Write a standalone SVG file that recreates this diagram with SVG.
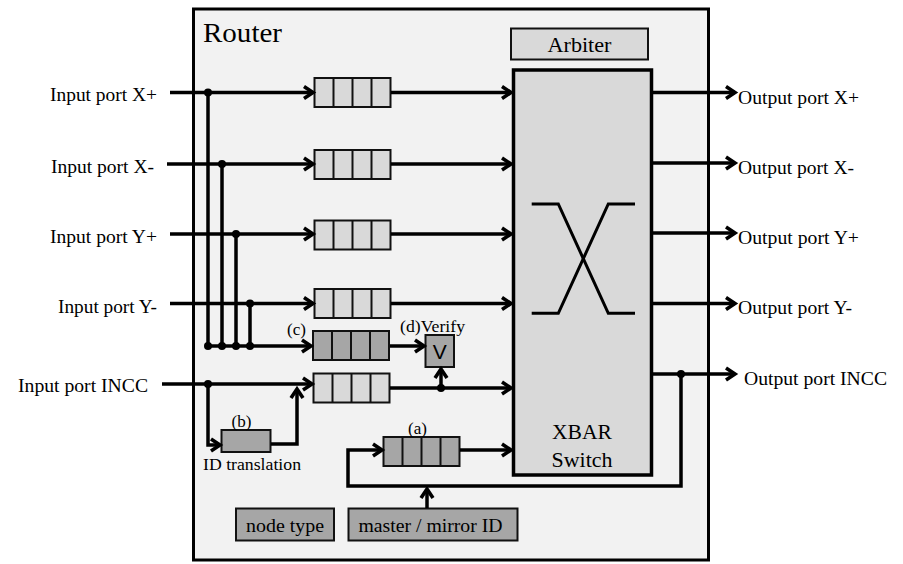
<svg xmlns="http://www.w3.org/2000/svg" width="903" height="564" viewBox="0 0 903 564" font-family="'Liberation Serif','Times New Roman',serif">
<defs>
<marker id="arr" viewBox="0 0 14 16" refX="12" refY="8" markerWidth="14" markerHeight="16" markerUnits="userSpaceOnUse" orient="auto" overflow="visible">
<path d="M3,2 L12,8 L3,14" fill="none" stroke="#000" stroke-width="3.6" stroke-linejoin="miter"/>
</marker>
<g id="qcells" stroke="#111" stroke-width="2">
<line x1="19" y1="0" x2="19" y2="29"/>
<line x1="38" y1="0" x2="38" y2="29"/>
<line x1="57" y1="0" x2="57" y2="29"/>
</g>
</defs>
<style>
svg text, g text{font-family:"Liberation Serif","Times New Roman",serif;fill:#000}
g text.sans{font-family:"Liberation Sans",Arial,sans-serif}
.lbl{font-size:19px}
.sm{font-size:17px}
.box{stroke:#111;stroke-width:2}
.light{fill:#d9d9d9}
.dark{fill:#a6a6a6}
.c{fill:none;stroke:#000;stroke-width:3.5}
.a{marker-end:url(#arr)}
.dot{fill:#000}
</style>
<rect id="router" x="193.5" y="9" width="515" height="551" fill="#f2f2f2" stroke="#000" stroke-width="3"/>
<g id="router-label"><text x="203" y="42" font-size="27" font-family="'Liberation Serif',serif" textLength="79" lengthAdjust="spacingAndGlyphs">Router</text></g>

<g id="arbiter"><rect class="box light" x="511" y="28.5" width="137" height="31"/><text x="579.5" y="52" font-size="21" font-family="'Liberation Serif',serif" text-anchor="middle" textLength="64" lengthAdjust="spacingAndGlyphs">Arbiter</text></g>

<g id="xbar">
<rect x="513.5" y="70" width="138" height="405" fill="#d9d9d9" stroke="#000" stroke-width="3.5"/>
<polyline points="531.7,204 558.3,204 608.3,313.3 635,313.3" fill="none" stroke="#000" stroke-width="3"/>
<polyline points="531.7,313.3 558.3,313.3 608.3,204 635,204" fill="none" stroke="#000" stroke-width="3"/>
<text x="582" y="438.5" font-size="21.5" font-family="'Liberation Serif',serif" text-anchor="middle" textLength="60" lengthAdjust="spacingAndGlyphs">XBAR</text>
<text x="582" y="467" font-size="21.5" font-family="'Liberation Serif',serif" text-anchor="middle" textLength="61" lengthAdjust="spacingAndGlyphs">Switch</text>
</g>

<g id="q-xp" transform="translate(314.5,78)"><rect class="box light" width="76" height="29"/><use href="#qcells"/></g>
<g id="q-xm" transform="translate(314.5,150)"><rect class="box light" width="76" height="29"/><use href="#qcells"/></g>
<g id="q-yp" transform="translate(314.5,220.5)"><rect class="box light" width="76" height="29"/><use href="#qcells"/></g>
<g id="q-ym" transform="translate(314.5,289)"><rect class="box light" width="76" height="29"/><use href="#qcells"/></g>
<g id="q-c" transform="translate(313,331)"><rect class="box dark" width="76" height="29"/><use href="#qcells"/></g>
<g id="q-incc" transform="translate(313.5,373.5)"><rect class="box light" width="76" height="29"/><use href="#qcells"/></g>
<g id="q-a" transform="translate(383.5,437)"><rect class="box dark" width="76" height="29"/><use href="#qcells"/></g>

<g id="verify"><rect class="box dark" x="425.5" y="335" width="28.5" height="32"/><text class="sans" x="439.8" y="359" font-size="21" font-family="'Liberation Sans',Arial,sans-serif" text-anchor="middle">V</text></g>
<g id="idtrans"><rect class="box dark" x="221.5" y="430" width="49" height="22"/></g>
<g id="nodetype"><rect class="box dark" x="236" y="508.5" width="98" height="32"/><text x="285" y="532" class="lbl" font-family="'Liberation Serif',serif" text-anchor="middle" textLength="78" lengthAdjust="spacingAndGlyphs">node type</text></g>
<g id="masterid"><rect class="box dark" x="348.5" y="508.5" width="169" height="32"/><text x="430.5" y="532" class="lbl" font-family="'Liberation Serif',serif" text-anchor="middle" textLength="144" lengthAdjust="spacingAndGlyphs">master / mirror ID</text></g>

<g id="connectors">
<path class="c a" d="M170,92.5 H313"/>
<path class="c a" d="M167,164 H313"/>
<path class="c a" d="M170,234 H313"/>
<path class="c a" d="M170,303.5 H313"/>
<path class="c" d="M208,92.5 V346 M222,164 V346 M236,234 V346 M250,303.5 V346"/>
<path class="c a" d="M208,346 H311"/>
<path class="c a" d="M391,92.5 H511"/>
<path class="c a" d="M391,164 H511"/>
<path class="c a" d="M391,234 H511"/>
<path class="c a" d="M391,303.5 H511"/>
<path class="c a" d="M390,346 H424"/>
<path class="c a" d="M162,384 H312"/>
<path class="c a" d="M208,384 V445 H220"/>
<path class="c a" d="M271,444 H297 V389"/>
<path class="c a" d="M390,388 H511"/>
<path class="c a" d="M441,388 V369"/>
<path class="c a" d="M460,450 H511"/>
<path class="c a" d="M681,374 V486 H348 V450 H382"/>
<path class="c a" d="M427,508 V489"/>
<path class="c a" d="M652,92.5 H735"/>
<path class="c a" d="M652,163 H735"/>
<path class="c a" d="M652,233 H735"/>
<path class="c a" d="M652,303.5 H735"/>
<path class="c a" d="M652,374 H735"/>
<circle class="dot" cx="208" cy="92.5" r="4"/>
<circle class="dot" cx="222" cy="164" r="4"/>
<circle class="dot" cx="236" cy="234" r="4"/>
<circle class="dot" cx="250" cy="303.5" r="4"/>
<circle class="dot" cx="208" cy="346" r="4"/>
<circle class="dot" cx="222" cy="346" r="4"/>
<circle class="dot" cx="236" cy="346" r="4"/>
<circle class="dot" cx="250" cy="346" r="4"/>
<circle class="dot" cx="208" cy="384" r="4"/>
<circle class="dot" cx="441" cy="388" r="4"/>
<circle class="dot" cx="681" cy="374" r="4"/>
</g>

<g id="labels" font-family="'Liberation Serif',serif">
<text class="lbl" x="157" y="100.5" text-anchor="end" textLength="107" lengthAdjust="spacingAndGlyphs">Input port X+</text>
<text class="lbl" x="154" y="173" text-anchor="end" textLength="103" lengthAdjust="spacingAndGlyphs">Input port X-</text>
<text class="lbl" x="157" y="243" text-anchor="end" textLength="107" lengthAdjust="spacingAndGlyphs">Input port Y+</text>
<text class="lbl" x="157" y="312.5" text-anchor="end" textLength="99" lengthAdjust="spacingAndGlyphs">Input port Y-</text>
<text class="lbl" x="148" y="392" text-anchor="end" textLength="130" lengthAdjust="spacingAndGlyphs">Input port INCC</text>
<text class="lbl" x="738" y="104" textLength="121" lengthAdjust="spacingAndGlyphs">Output port X+</text>
<text class="lbl" x="738" y="173.5" textLength="116" lengthAdjust="spacingAndGlyphs">Output port X-</text>
<text class="lbl" x="738" y="243.5" textLength="121" lengthAdjust="spacingAndGlyphs">Output port Y+</text>
<text class="lbl" x="738" y="314" textLength="114" lengthAdjust="spacingAndGlyphs">Output port Y-</text>
<text class="lbl" x="744" y="384.5" textLength="143" lengthAdjust="spacingAndGlyphs">Output port INCC</text>
<text class="sm" x="287" y="335">(c)</text>
<text class="sm" x="400" y="332" textLength="65" lengthAdjust="spacingAndGlyphs">(d)Verify</text>
<text class="sm" x="231.5" y="427">(b)</text>
<text class="sm" x="408" y="433.5">(a)</text>
<text class="sm" x="203" y="470" textLength="98" lengthAdjust="spacingAndGlyphs">ID translation</text>
</g>
</svg>
